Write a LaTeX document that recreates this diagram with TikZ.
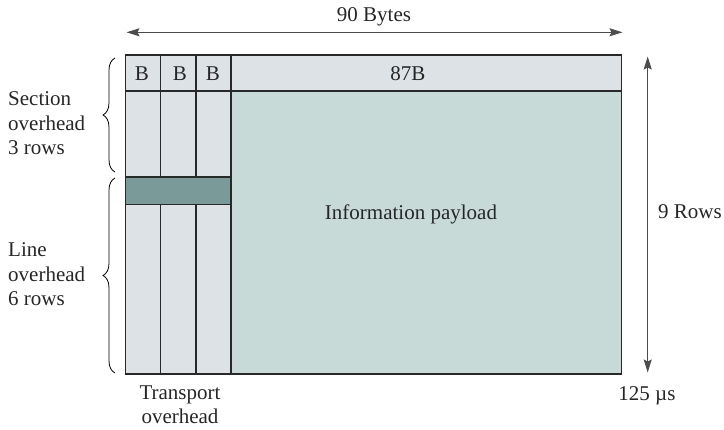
\documentclass[tikz,border=0pt]{standalone}
\usepackage{fontspec}
\setmainfont{Liberation Serif}
\usepackage{tikz}
\usetikzlibrary{arrows.meta,decorations.pathreplacing}
\definecolor{ohgrey}{RGB}{220, 226, 229}
\definecolor{paygreen}{RGB}{199, 218, 216}
\definecolor{banddark}{RGB}{122, 154, 154}
\definecolor{lineink}{RGB}{40, 40, 40}

\begin{document}
\begin{tikzpicture}[x=1pt, y=-1pt, font=\fontsize{21}{24.5}\selectfont,
    cell/.style={draw=lineink, line width=1.2pt},
    txt/.style={anchor=base, inner sep=0pt, text=black!85},
    dimarrow/.style={{Stealth[length=13pt,width=8pt,inset=2pt]}-{Stealth[length=13pt,width=8pt,inset=2pt]}, line width=0.9pt, draw=black!70},
    bracket/.style={decorate, decoration={brace, amplitude=12pt}, line width=0.8pt}]
    \useasboundingbox (0,0) rectangle (724,430);

    % Frame: overhead columns and payload
    \fill[ohgrey] (125.5,55) rectangle (231,374);
    \fill[ohgrey] (231,55) rectangle (621.5,91);
    \fill[paygreen] (231,91) rectangle (621.5,374);
    \fill[banddark] (125.5,177) rectangle (231,204.5);
    \draw[cell] (125.5,55) rectangle (621.5,374);
    \draw[cell] (125.5,91) -- (621.5,91);
    \foreach \xc in {160.7,196} {
        \draw[cell] (\xc,55) -- (\xc,177);
        \draw[cell] (\xc,204.5) -- (\xc,374);
    }
    \draw[cell] (231,55) -- (231,374);
    \draw[cell] (125.5,177) rectangle (231,204.5);

    % Cell texts
    \node[txt] (b1) at (142,81) {B};
    \node[txt] (b2) at (180,81) {B};
    \node[txt] (b3) at (213,81) {B};
    \node[txt] (hdr) at (408,81) {87B};
    \node[txt] (payload) at (411,220) {Information payload};

    % Dimensions
    \coordinate (wl) at (126.5,32.3);
    \coordinate (wr) at (622.5,32.3);
    \draw[dimarrow] (wl) -- (wr);
    \node[txt] (bytes) at (374,21.5) {90 Bytes};
    \coordinate (ht) at (647.7,56.5);
    \coordinate (hb) at (647.7,372.5);
    \draw[dimarrow] (ht) -- (hb);
    \node[txt, anchor=base west] (rows) at (658,218.5) {9 Rows};
    \node[txt] (time) at (647,400.5) {125 µs};

    % Braces and overhead labels
    \draw[bracket] (115,172) -- (115,58);
    \draw[bracket] (115,373) -- (115,178);
    \node[txt, anchor=base west, align=left] (section) at (8,154.6) {Section\\overhead\\3 rows};
    \node[txt, anchor=base west, align=left] (line) at (8,306) {Line\\overhead\\6 rows};
    \node[txt, align=center, font=\fontsize{21}{24}\selectfont] (transport) at (180,423.3) {Transport\\overhead};
\end{tikzpicture}
\end{document}
